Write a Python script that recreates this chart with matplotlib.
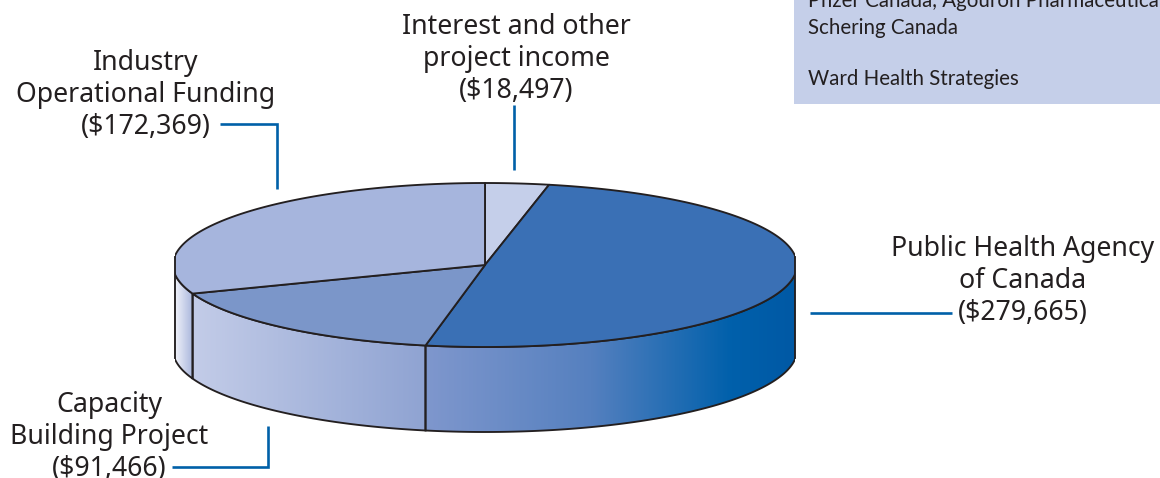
import numpy as np
from matplotlib import pyplot as plt
from matplotlib.colors import LinearSegmentedColormap
from matplotlib.patches import Polygon, Rectangle

# slices clockwise starting from 12 o'clock
names = ['Interest', 'PHAC', 'Capacity', 'Industry']
values = [18497, 279665, 91466, 172369]
top_colors = ['#c5cfea', '#3a70b5', '#7b96c9', '#a6b5dd']

# rim gradients, front of the pie from left to right
rim_stops = [
    [(0, '#f0f2fa'), (1, '#a9b6dc')],
    [(0, '#c3cce8'), (1, '#8fa3d2')],
    [(0, '#7f97cd'), (0.45, '#5580bf'), (0.83, '#0060ab'), (1, '#0059a5')],
]

box_lines = ['Pfizer Canada, Agouron Pharmaceuticals', 'Schering Canada', 'Ward Health Strategies']
box_y = [1, 28, 79]

labels = [
    (['Interest and other', 'project income', '($18,497)'], 516, 27),
    (['Industry', 'Operational Funding', '($172,369)'], 146, 63),
    (['Public Health Agency', 'of Canada', '($279,665)'], 1023, 249),
    (['Capacity', 'Building Project', '($91,466)'], 109, 405),
]
leaders = [
    ([514, 514], [105, 170]),
    ([220, 277, 277], [124, 124, 189]),
    ([810, 952], [313, 313]),
    ([172, 268, 268], [467, 467, 426]),
]

cx, cy = 485, 265
rx, ry = 312, 82
depth = 85
left, right = 175, 795
INK = '#231f20'
BLUE = '#0060a8'


def arc(a0, a1, dy=0):
    t = np.radians(np.linspace(a0, a1, 200))
    return np.column_stack([cx + rx * np.sin(t), cy + dy - ry * np.cos(t)])


fig = plt.figure(figsize=(11.6, 4.78), dpi=100)
ax = fig.add_axes([0, 0, 1, 1])
clip = Rectangle((left, 0), right - left, 478, transform=ax.transData)

edges = np.concatenate([[0], np.cumsum(values)]) / sum(values) * 360

# rim pieces, only the part facing us (90..270 degrees)
cuts = [270, edges[3], edges[2], 90]
for i in range(3):
    a0, a1 = cuts[i], cuts[i + 1]
    pts = np.vstack([arc(a0, a1), arc(a1, a0, depth)])
    x0, x1 = pts[:, 0].min(), min(pts[:, 0].max(), right)
    x0 = max(x0, left)
    cmap = LinearSegmentedColormap.from_list('rim%d' % i, rim_stops[i])
    im = ax.imshow(np.linspace(0, 1, 256).reshape(1, -1), cmap=cmap, aspect='auto',
                   extent=[x0, x1, 440, 180], zorder=1)
    shape = Polygon(pts, closed=True, transform=ax.transData)
    im.set_clip_path(shape)
    outline = Polygon(pts, closed=True, fill=False, ec=INK, lw=1.35, zorder=2)
    ax.add_patch(outline)
    outline.set_clip_path(clip)

# top face
for i in range(len(values)):
    pts = np.vstack([[cx, cy], arc(edges[i], edges[i + 1])])
    wedge = Polygon(pts, closed=True, fc=top_colors[i], ec=INK, lw=1.35, joinstyle='round', zorder=3)
    ax.add_patch(wedge)
    wedge.set_clip_path(clip)

# the flat sides where the ellipse is cut off
for x in (left, right):
    ax.plot([x, x], [cy - 8, cy + depth + 8], color=INK, lw=1.35, zorder=4)

for xs, ys in leaders:
    ax.plot(xs, ys, color=BLUE, lw=1.9, solid_capstyle='butt', solid_joinstyle='miter', zorder=5)

for lines, x, y in labels:
    for j, line in enumerate(lines):
        ax.text(x, y + 32 * j, line, ha='center', va='center', fontsize=19.2,
                family='Noto Sans', color=INK)

ax.add_patch(Rectangle((794, 0), 366, 104, fc='#c5cfe9', ec='none', zorder=0))
for line, y in zip(box_lines, box_y):
    ax.text(808, y, line, ha='left', va='center', fontsize=14.8, family='Lato', color=INK, clip_on=True)

ax.set_xlim(0, 1160)
ax.set_ylim(478, 0)
ax.axis('off')
fig.savefig('out.png', dpi=100)
